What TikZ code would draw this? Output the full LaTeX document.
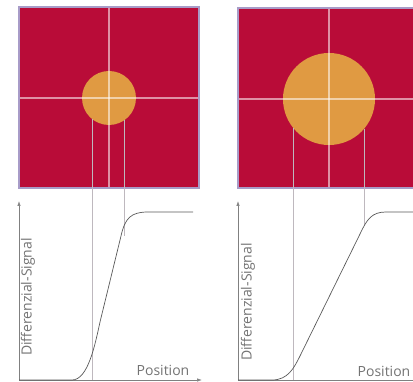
\documentclass[tikz,border=0pt]{standalone}
\usepackage{fontspec}
\setmainfont{Open Sans}
\usetikzlibrary{arrows.meta}
\definecolor{sqred}{RGB}{185,12,56}
\definecolor{spot}{RGB}{224,154,66}
\definecolor{rim}{RGB}{168,156,200}
\definecolor{axisgray}{RGB}{128,128,128}
\definecolor{txtgray}{RGB}{115,115,115}
\definecolor{guide}{RGB}{190,184,190}
\tikzset{
  square/.style={fill=sqred, draw=rim, line width=1.6pt},
  cross/.style={draw=white, draw opacity=0.55, line width=1.4pt},
  spotc/.style={fill=spot},
  guideline/.style={draw=guide, line width=0.7pt},
  axisline/.style={draw=axisgray, line width=0.7pt, -{Latex[length=5pt,width=3.5pt]}},
  curve/.style={draw=black!65, line width=0.7pt},
  lbl/.style={text=txtgray, font=\fontsize{14}{16}\selectfont, inner sep=0pt},
}
\begin{document}
\begin{tikzpicture}[x=1pt,y=-1pt]
\useasboundingbox (0,0) rectangle (413,382);
\begin{scope}
\clip (0,0) rectangle (413,382);
% left square
\path[square] (19,7) rectangle (199,188);
\path[spotc] (109,98) circle (27);
\draw[cross] (109,7.8) -- (109,187.2);
\draw[cross] (19.8,98) -- (198.2,98);
% right square
\path[square] (238,8) rectangle (420,188);
\path[spotc] (329,99) circle (46);
\draw[cross] (329,8.8) -- (329,187.2);
\draw[cross] (238.8,99) -- (419,99);
% guide lines
\coordinate (g1t) at (92,119); \coordinate (g1b) at (92,380);
\coordinate (g2t) at (124,120); \coordinate (g2b) at (124,236);
\coordinate (g3t) at (293,128); \coordinate (g3b) at (293,380);
\coordinate (g4t) at (364,129); \coordinate (g4b) at (364,226);
\draw[guideline] (g1t) -- (g1b);
\draw[guideline] (g2t) -- (g2b);
\draw[guideline] (g3t) -- (g3b);
\draw[guideline] (g4t) -- (g4b);
% axes
\coordinate (o1) at (19,380); \coordinate (y1) at (19,201); \coordinate (x1) at (202,380);
\coordinate (o2) at (238,380); \coordinate (y2) at (238,201); \coordinate (x2) at (420,380);
\draw[axisline] (o1) -- (y1);
\draw[axisline] (o1) -- (x1);
\draw[axisline] (o2) -- (y2);
\draw[axisline] (o2) -- (x2);
% curves
\draw[curve] (19,380) -- (72,380) .. controls (88,380) and (95,345) .. (100,322)
  -- (121,236) .. controls (125,218) and (131,212) .. (148,212) -- (193,212);
\draw[curve] (238,380) -- (272,380) .. controls (288,380) and (294,368) .. (300,356)
  -- (360,234) .. controls (367,219) and (372,212) .. (386,212) -- (420,212);
% labels
\node[lbl, rotate=90] (d1) at (28,297) {Differenzial-Signal};
\node[lbl] (p1) at (163,370) {Position};
\node[lbl, rotate=90] (d2) at (248,302) {Differenzial-Signal};
\node[lbl] (p2) at (384,371) {Position};
\end{scope}
\end{tikzpicture}
\end{document}
